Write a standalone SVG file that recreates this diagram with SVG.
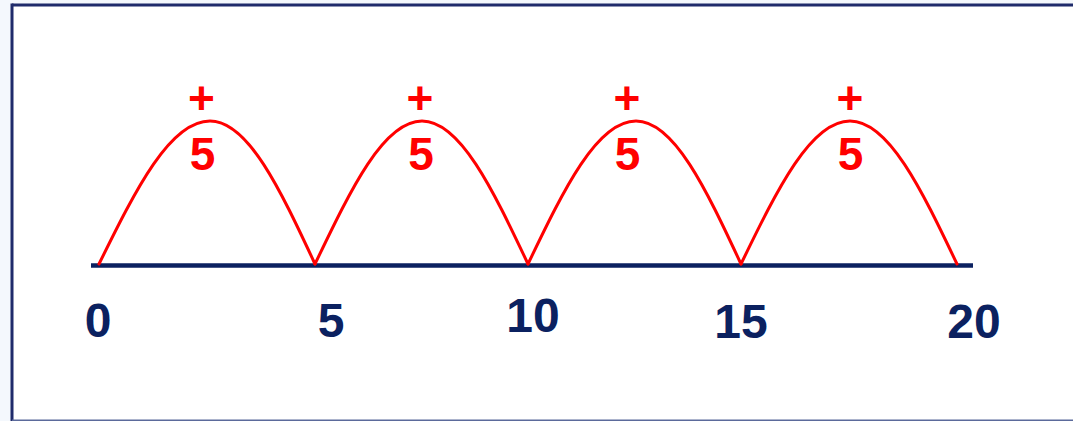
<svg xmlns="http://www.w3.org/2000/svg" width="1073" height="421" viewBox="0 0 1073 421">
<style>
.arc{fill:none;stroke:#ff0000;stroke-width:3;stroke-linecap:round}
.red{fill:#ff0000;font-family:"Liberation Sans",Arial,sans-serif;font-weight:bold;font-size:46px;text-anchor:middle}
.num{fill:#0b2160;font-family:"Liberation Sans",Arial,sans-serif;font-weight:bold;font-size:48px;text-anchor:middle}
</style>
<rect x="0" y="0" width="1073" height="421" fill="#f4f8fd"/>
<rect x="12" y="5" width="1070" height="415" fill="#ffffff"/>
<line x1="12" y1="5" x2="1073" y2="5" stroke="#1f2b6b" stroke-width="3"/>
<line x1="12" y1="3.5" x2="12" y2="421" stroke="#1f2b6b" stroke-width="3"/>
<line x1="12" y1="420.2" x2="1073" y2="420.2" stroke="#5b6a9b" stroke-width="1.6"/>
<g id="axis">
<line x1="91" y1="265.5" x2="973" y2="265.5" stroke="#0b2160" stroke-width="4.5"/>
</g>
<g id="connectors">
<path class="arc" d="M99,264 C136,189 170,121 210,121 C248,121 280,189 315,264"/>
<path class="arc" d="M315,264 C351,189 383.5,121 422,121 C460,121 492.6,189 528,264"/>
<path class="arc" d="M528,264 C564,189 597,121 636,121 C674,121 706,189 741,264"/>
<path class="arc" d="M741,264 C777.4,189 810.8,121 850,121 C888.5,121 921.3,189 957,264"/>
</g>
<g id="jump1"><text class="red" x="201.5" y="114">+</text><text class="red" x="202.5" y="170">5</text></g>
<g id="jump2"><text class="red" x="420" y="114">+</text><text class="red" x="421" y="170">5</text></g>
<g id="jump3"><text class="red" x="627" y="114">+</text><text class="red" x="627.5" y="170">5</text></g>
<g id="jump4"><text class="red" x="850" y="114">+</text><text class="red" x="850.5" y="170">5</text></g>
<g id="label0"><text class="num" x="98" y="337">0</text></g>
<g id="label5"><text class="num" x="331" y="337">5</text></g>
<g id="label10"><text class="num" x="533" y="332">10</text></g>
<g id="label15"><text class="num" x="741" y="338">15</text></g>
<g id="label20"><text class="num" x="974" y="338">20</text></g>
</svg>
